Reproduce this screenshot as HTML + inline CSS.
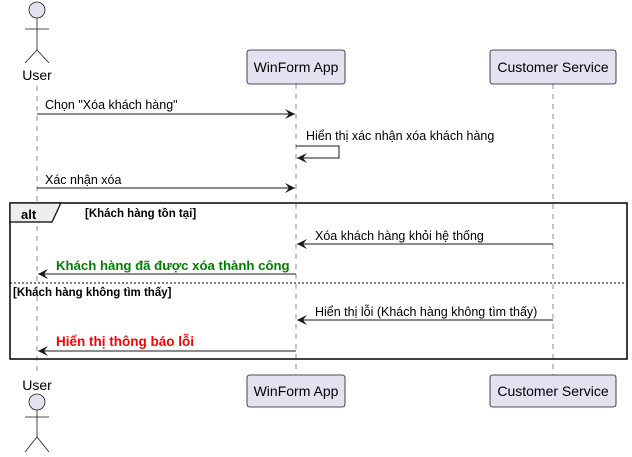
<!DOCTYPE html>
<html><head><meta charset="utf-8"><style>body{margin:0;background:#fff}svg{display:block}</style></head><body>
<svg width="632" height="457" viewBox="0 0 632 457" xmlns="http://www.w3.org/2000/svg" font-family="Liberation Sans, DejaVu Sans, sans-serif">
<defs><marker id="a" markerWidth="12" markerHeight="10" refX="10" refY="5" orient="auto" markerUnits="userSpaceOnUse"><path d="M0,0 L10,5 L0,10 L4,5 Z" fill="#181818"/></marker></defs>
<g stroke="#181818" stroke-width="0.5" stroke-dasharray="5,5">
<line x1="37" y1="86" x2="37" y2="375"/><line x1="296" y1="84" x2="296" y2="375"/><line x1="553" y1="84" x2="553" y2="375"/></g>
<g fill="#E2E2F0" stroke="#181818" stroke-width="0.8">
<circle cx="37" cy="10" r="8"/>
<line x1="37" y1="18" x2="37" y2="50"/><line x1="25" y1="29" x2="49" y2="29"/><line x1="37" y1="50" x2="25" y2="63"/><line x1="37" y1="50" x2="49" y2="63"/>
<circle cx="37" cy="402" r="8"/>
<line x1="37" y1="410" x2="37" y2="437"/><line x1="25" y1="417" x2="49" y2="417"/><line x1="37" y1="437" x2="25" y2="452"/><line x1="37" y1="437" x2="49" y2="452"/>
<rect x="247" y="50" width="98" height="34" rx="2.5"/><rect x="490" y="50" width="126" height="34" rx="2.5"/>
<rect x="247" y="375" width="98" height="32" rx="2.5"/><rect x="490" y="375" width="126" height="32" rx="2.5"/>
</g>
<g font-size="14" fill="#000">
<text x="37" y="80" text-anchor="middle">User</text>
<text x="37" y="390" text-anchor="middle">User</text>
<text x="296" y="72" text-anchor="middle">WinForm App</text>
<text x="553" y="72" text-anchor="middle">Customer Service</text>
<text x="296" y="396" text-anchor="middle">WinForm App</text>
<text x="553" y="396" text-anchor="middle">Customer Service</text>
</g>
<g stroke="#181818" stroke-width="1" fill="none">
<line x1="37" y1="114" x2="295" y2="114" marker-end="url(#a)"/>
<polyline points="296,146 339,146 339,158 297,158" marker-end="url(#a)"/>
<line x1="37" y1="188" x2="295" y2="188" marker-end="url(#a)"/>
<line x1="553" y1="244" x2="297" y2="244" marker-end="url(#a)"/>
<line x1="296" y1="274" x2="38" y2="274" marker-end="url(#a)"/>
<line x1="553" y1="320" x2="297" y2="320" marker-end="url(#a)"/>
<line x1="296" y1="351" x2="38" y2="351" marker-end="url(#a)"/>
</g>
<rect x="10" y="203" width="617" height="156" fill="none" stroke="#000" stroke-width="1.5"/>
<polygon points="10,203 60,203 60,205 52,222 10,222" fill="#EEEEEE" stroke="#000" stroke-width="1.2"/>
<line x1="10" y1="283" x2="627" y2="283" stroke="#000" stroke-width="1" stroke-dasharray="2,2"/>
<g font-size="12.5" fill="#000">
<text x="45" y="109">Chọn "Xóa khách hàng"</text>
<text x="306" y="140">Hiển thị xác nhận xóa khách hàng</text>
<text x="45" y="184">Xác nhận xóa</text>
<text x="315" y="240">Xóa khách hàng khỏi hệ thống</text>
<text x="315" y="316">Hiển thị lỗi (Khách hàng không tìm thấy)</text>
</g>
<text x="21" y="219" font-size="13" font-weight="bold">alt</text>
<text x="85" y="217" font-size="11.5" font-weight="bold">[Khách hàng tồn tại]</text>
<text x="13" y="296" font-size="11.5" font-weight="bold">[Khách hàng không tìm thấy]</text>
<text x="56" y="270" font-size="13.2" font-weight="bold" fill="#008000">Khách hàng đã được xóa thành công</text>
<text x="56" y="346" font-size="13.5" font-weight="bold" fill="#FF0000">Hiển thị thông báo lỗi</text>
</svg>
</body></html>
